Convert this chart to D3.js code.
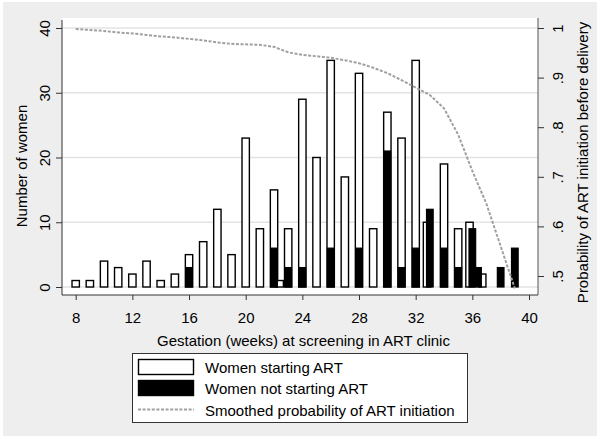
<!DOCTYPE html>
<html><head><meta charset="utf-8">
<script src="https://cdn.jsdelivr.net/npm/d3@7"></script>
<style>body{margin:0;background:#fff}svg{display:block;font-family:"Liberation Sans",Arial,sans-serif}</style>
</head><body><svg id="c" width="600" height="439"></svg>
<script>
// ---- data ----
const startWeeks  = [8,9,10,11,12,13,14,15,16,17,18,19,20,21,22,22.4,23,24,25,26,27,28,29,30,31,32,32.8,34,35,35.8,36.7];
const startCounts = [1,1,4,3,2,4,1,2,5,7,12,5,23,9,15,1,9,29,20,35,17,33,9,27,23,35,10,19,9,10,2];
const notWeeks  = [16,22,23,24,26,28,30,31,32,33,34,35,36,36.4,38,39];
const notCounts = [3,6,3,3,6,6,21,3,6,12,6,3,9,3,3,6];
const probWeeks  = [8,9,10,11,12,13,14,15,16,17,18,19,20,21,22,23,24,25,26,27,28,29,30,31,32,33,34,35,36,37,38,39];
const probValues = [0.998,0.996,0.994,0.991,0.989,0.986,0.983,0.981,0.978,0.975,0.971,0.968,0.967,0.966,0.962,0.951,0.946,0.943,0.940,0.935,0.929,0.920,0.909,0.895,0.880,0.865,0.838,0.785,0.712,0.645,0.560,0.475];
const xTicks = [8,12,16,20,24,28,32,36,40];
const yLeftTicks = [0,10,20,30,40];
const yRightTicks = [0.5,0.6,0.7,0.8,0.9,1];
const yRightLabels = [".5",".6",".7",".8",".9","1"];
const legendLabels = ["Women starting ART","Women not starting ART","Smoothed probability of ART initiation"];
const xTitle = "Gestation (weeks) at screening in ART clinic";
const yLeftTitle = "Number of women";
const yRightTitle = "Probability of ART initiation before delivery";

// ---- layout ----
const W = 600, H = 439;
const P = {l: 62, r: 538, t: 18, b: 295};
const svg = d3.select("#c");
const FS = 15;

svg.append("rect").attr("x",3).attr("y",2).attr("width",W-6).attr("height",H-5).attr("fill","#eeeeee");
svg.append("rect").attr("x",P.l).attr("y",P.t).attr("width",P.r-P.l).attr("height",P.b-P.t).attr("fill","#fff");

const x  = d3.scaleLinear().domain([8,40]).range([75.7,529]);
const yL = d3.scaleLinear().domain([0,40]).range([287,28]);
const yR = d3.scaleLinear().domain([0.5,1]).range([276,28]);

// gridlines
svg.append("g").selectAll("line").data(yLeftTicks).join("line")
  .attr("x1",P.l).attr("x2",P.r).attr("y1",d=>yL(d)).attr("y2",d=>yL(d))
  .attr("stroke","#e3e3e3").attr("stroke-width",1.4);

// bars
const wWhite = x(8.52)-x(8), wBlack = x(8.47)-x(8);
svg.append("g").selectAll("rect").data(startWeeks.map((w,i)=>({w,c:startCounts[i]}))).join("rect")
  .attr("x",d=>x(d.w)-wWhite/2).attr("width",wWhite)
  .attr("y",d=>yL(d.c)).attr("height",d=>yL(0)-yL(d.c))
  .attr("fill","#fff").attr("stroke","#000").attr("stroke-width",1.4);
svg.append("g").selectAll("rect").data(notWeeks.map((w,i)=>({w,c:notCounts[i]}))).join("rect")
  .attr("x",d=>x(d.w)-wBlack/2).attr("width",wBlack)
  .attr("y",d=>yL(d.c)).attr("height",d=>yL(0)-yL(d.c))
  .attr("fill","#000").attr("stroke","#000").attr("stroke-width",1.2);

// probability line
const line = d3.line().x(d=>x(d[0])).y(d=>yR(d[1]));
svg.append("path").datum(probWeeks.map((w,i)=>[w,probValues[i]]))
  .attr("d",line).attr("fill","none").attr("stroke","#a0a0a0")
  .attr("stroke-width",2).attr("stroke-dasharray","3,1.6");

// axes lines
const axc = "#333";
svg.append("line").attr("x1",P.l).attr("x2",P.l).attr("y1",20).attr("y2",P.b).attr("stroke",axc);
svg.append("line").attr("x1",P.l).attr("x2",P.r).attr("y1",P.b).attr("y2",P.b).attr("stroke",axc);
svg.append("line").attr("x1",P.r).attr("x2",P.r).attr("y1",P.t).attr("y2",P.b).attr("stroke","#555");

// left axis
const gL = svg.append("g").attr("transform",`translate(${P.l},0)`)
  .call(d3.axisLeft(yL).tickValues(yLeftTicks).tickSize(6).tickSizeOuter(0).tickFormat(d3.format("d")));
gL.select(".domain").remove();
gL.selectAll("line").attr("stroke",axc);
gL.selectAll("text").attr("x",null).attr("dy",null).attr("text-anchor","middle")
  .attr("transform","translate(-12,0) rotate(-90)").attr("font-size",FS).attr("font-family","Liberation Sans, Arial, sans-serif").attr("fill","#000");

// right axis
const gR = svg.append("g").attr("transform",`translate(${P.r},0)`)
  .call(d3.axisRight(yR).tickValues(yRightTicks).tickSize(6).tickSizeOuter(0).tickFormat((d,i)=>yRightLabels[i]));
gR.select(".domain").remove();
gR.selectAll("line").attr("stroke",axc);
gR.selectAll("text").attr("x",null).attr("dy",null).attr("text-anchor","middle")
  .attr("transform","translate(24.5,0) rotate(-90)").attr("font-size",FS).attr("font-family","Liberation Sans, Arial, sans-serif").attr("fill","#000");

// bottom axis
const gB = svg.append("g").attr("transform",`translate(0,${P.b})`)
  .call(d3.axisBottom(x).tickValues(xTicks).tickSize(5).tickSizeOuter(0).tickFormat(d3.format("d")));
gB.select(".domain").remove();
gB.selectAll("line").attr("stroke",axc);
gB.selectAll("text").attr("y",28).attr("dy",null).attr("font-size",FS).attr("font-family","Liberation Sans, Arial, sans-serif").attr("fill","#000");

// titles
svg.append("text").attr("x",303.5).attr("y",346).attr("text-anchor","middle").attr("font-size",FS).text(xTitle);
svg.append("text").attr("transform","translate(27.3,166) rotate(-90)").attr("text-anchor","middle").attr("font-size",FS).text(yLeftTitle);
svg.append("text").attr("transform","translate(588,162.5) rotate(-90)").attr("text-anchor","middle").attr("font-size",FS).text(yRightTitle);

// legend
const lg = svg.append("g");
lg.append("rect").attr("x",132.5).attr("y",353.5).attr("width",335).attr("height",69).attr("fill","#fff").attr("stroke","#333").attr("stroke-width",1);
lg.append("rect").attr("x",138.5).attr("y",359.5).attr("width",55).attr("height",15).attr("fill","#fff").attr("stroke","#000").attr("stroke-width",1.4);
lg.append("rect").attr("x",138.5).attr("y",380.5).attr("width",55).attr("height",15).attr("fill","#000").attr("stroke","#000").attr("stroke-width",1.4);
lg.append("line").attr("x1",138).attr("x2",194).attr("y1",409.5).attr("y2",409.5).attr("stroke","#a0a0a0").attr("stroke-width",2).attr("stroke-dasharray","3,1.6");
lg.selectAll("text.l").data(legendLabels).join("text").attr("class","l")
  .attr("x",205).attr("y",(d,i)=>[373.3,394.3,415.5][i]).attr("font-size",FS).text(d=>d);
</script></body></html>
